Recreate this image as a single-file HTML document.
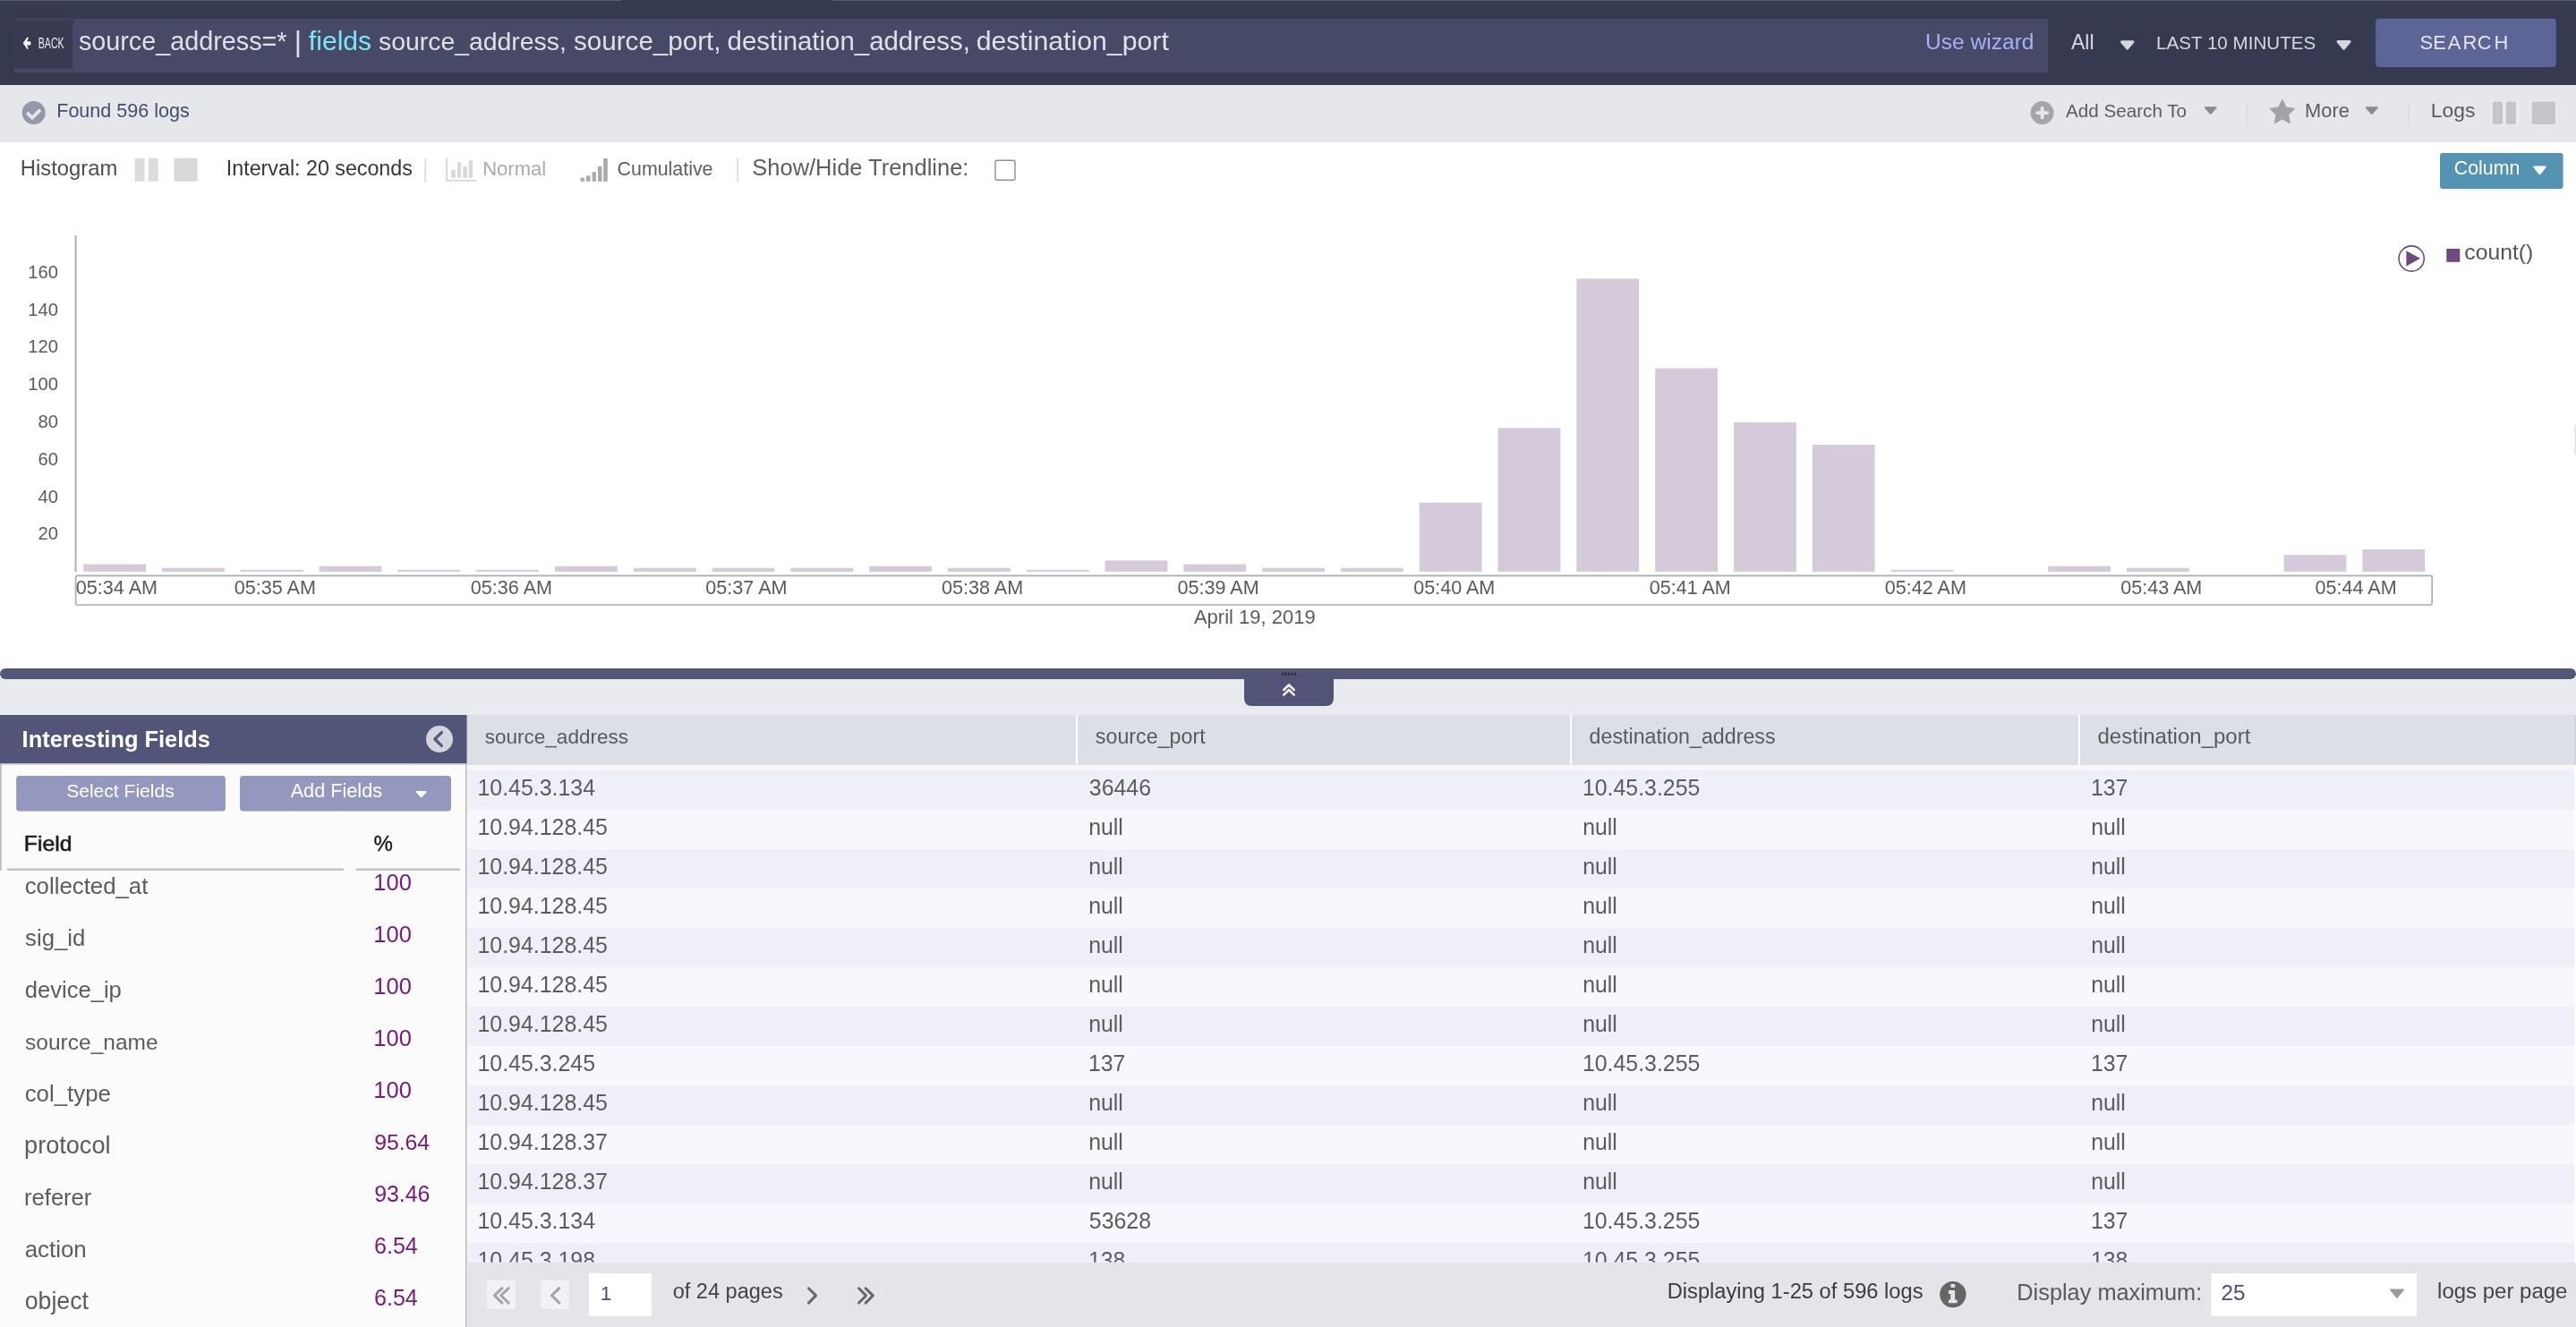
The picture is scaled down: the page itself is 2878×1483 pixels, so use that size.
<!DOCTYPE html>
<html lang="en"><head><meta charset="utf-8"><title>Log Search</title>
<style>
html,body{margin:0;padding:0;background:#fff;overflow:hidden;width:2878px;height:1483px;}
svg{display:block;font-family:"Liberation Sans", Arial, Helvetica, sans-serif;will-change:transform;}
text{white-space:pre;}
</style></head>
<body>
<svg width="2878" height="1483" viewBox="0 0 2878 1483" font-family='"Liberation Sans", Arial, Helvetica, sans-serif'>
<defs><clipPath id="tclip"><rect x="521.6" y="860" width="2356.4" height="550.8"/></clipPath></defs>
<rect width="2878" height="1483" fill="#ffffff"/>
<rect x="0.00" y="0.00" width="2878.00" height="95.00" fill="#363a51" />
<rect x="0.00" y="0.00" width="694.00" height="1.00" fill="#575b7b" />
<rect x="930.00" y="0.00" width="1948.00" height="1.00" fill="#575b7b" />
<rect x="16.00" y="21.00" width="2272.00" height="60.00" fill="#464a67" />
<rect x="16.00" y="22.00" width="65.00" height="54.60" fill="#373a51" />
<rect x="80.00" y="22.00" width="3.00" height="4.50" fill="#373a51" />
<path d="M25.7 48.3 L30.6 41.2 L31.8 42.4 L30.2 46.2 L34.3 46.2 L34.3 50.6 L30.2 50.6 L31.8 54.3 L30.6 55.3 Z" fill="#f4f4f8"/>
<text x="42.68" y="53.7" font-size="17.30" fill="#eeeef3" textLength="29.00" lengthAdjust="spacingAndGlyphs">BACK</text>
<text x="87.90" y="56.30" font-size="28.78" fill="#dfe0e8" >source_address=*</text>
<text x="328.74" y="57.2" font-size="32" fill="#dfe0e8">|</text>
<text x="344.87" y="56.30" font-size="30.08" fill="#7fe4f6" >fields</text>
<text x="423.11" y="56.30" font-size="28.37" fill="#dfe0e8" >source_address,</text>
<text x="641.08" y="56.30" font-size="29.59" fill="#dfe0e8" >source_port,</text>
<text x="812.56" y="56.30" font-size="29.42" fill="#dfe0e8" >destination_address,</text>
<text x="1090.63" y="56.30" font-size="30.24" fill="#dfe0e8" >destination_port</text>
<text x="2151.11" y="55.40" font-size="24.56" fill="#a9aff5" >Use wizard</text>
<text x="2313.96" y="54.80" font-size="23.02" fill="#d6d7e0" >All</text>
<path d="M2370.46 46.80 L2382.94 46.80 L2376.70 54.09 Z" fill="#d6d7e0" stroke="#d6d7e0" stroke-width="3.00" stroke-linejoin="round"/>
<text x="2409.01" y="54.80" font-size="20.61" fill="#d6d7e0" >LAST 10 MINUTES</text>
<path d="M2612.11 46.50 L2625.09 46.50 L2618.60 54.26 Z" fill="#d6d7e0" stroke="#d6d7e0" stroke-width="3.00" stroke-linejoin="round"/>
<rect x="2654.20" y="20.80" width="201.60" height="54.20" fill="#5d6496" rx="4" />
<text x="2703.50 2718.20 2734.86 2751.40 2767.79 2786.50" y="55.3" font-size="21.95" fill="#e3e4ee" >SEARCH</text>
<rect x="0.00" y="95.00" width="2878.00" height="64.00" fill="#e6e7eb" />
<circle cx="37.7" cy="126" r="13" fill="#9598a9"/>
<path d="M30.2 125.9 L36.1 131.6 L45.0 122.6" stroke="#e6e7eb" stroke-width="3.9" fill="none" stroke-linecap="butt" stroke-linejoin="miter"/>
<text x="63.23" y="131.00" font-size="21.55" fill="#474c6c" >Found 596 logs</text>
<circle cx="2281.6" cy="126.1" r="13" fill="#a6a6a8"/>
<path d="M2281.6 120.8 V131.4 M2276.1 126.1 H2287.1" stroke="#e6e7eb" stroke-width="3.9" stroke-linecap="round"/>
<text x="2307.96" y="130.90" font-size="20.67" fill="#5c5c60" >Add Search To</text>
<path d="M2463.68 120.10 L2475.82 120.10 L2469.75 127.03 Z" fill="#8c8c8e" stroke="#8c8c8e" stroke-width="1.80" stroke-linejoin="round"/>
<rect x="2510.50" y="113.50" width="1.00" height="27.30" fill="#d4d5da" />
<path d="M2549.9 111.5 L2554.0 120.1 L2563.5 121.4 L2556.6 128.0 L2558.3 137.4 L2549.9 132.8 L2541.5 137.4 L2543.2 128.0 L2536.3 121.4 L2545.8 120.1 Z" fill="#a3a3a5" stroke="#a3a3a5" stroke-width="1.2" stroke-linejoin="round"/>
<text x="2575.00" y="130.90" font-size="21.89" fill="#5c5c60" >More</text>
<path d="M2643.70 120.10 L2656.00 120.10 L2649.85 127.04 Z" fill="#8c8c8e" stroke="#8c8c8e" stroke-width="1.80" stroke-linejoin="round"/>
<rect x="2690.30" y="113.50" width="1.00" height="27.30" fill="#d4d5da" />
<text x="2715.72" y="130.90" font-size="22.92" fill="#5c5c60" >Logs</text>
<rect x="2782.40" y="111.80" width="32.00" height="28.50" fill="#ebebef" />
<rect x="2784.90" y="113.50" width="11.10" height="25.50" fill="#c6c6c8" rx="1.5" />
<rect x="2799.80" y="113.50" width="11.10" height="25.50" fill="#c6c6c8" rx="1.5" />
<rect x="2827.20" y="111.80" width="30.00" height="28.50" fill="#ebebef" />
<rect x="2828.70" y="113.50" width="26.30" height="25.50" fill="#c6c6c8" rx="1.5" />
<text x="22.85" y="196.00" font-size="23.79" fill="#4d4d4d" >Histogram</text>
<rect x="150.60" y="176.80" width="10.90" height="25.90" fill="#dcdcdc" rx="1.5" />
<rect x="165.70" y="176.80" width="10.90" height="25.90" fill="#dcdcdc" rx="1.5" />
<rect x="194.50" y="176.80" width="26.10" height="25.90" fill="#d9d9d9" rx="1.5" />
<text x="252.86" y="195.50" font-size="23.24" fill="#363636" >Interval: 20 seconds</text>
<rect x="474.50" y="177.00" width="1.20" height="27.00" fill="#d0d0d0" />
<rect x="498.20" y="177.10" width="1.90" height="25.70" fill="#d8d8d8" />
<rect x="498.20" y="200.90" width="34.10" height="1.90" fill="#d8d8d8" />
<rect x="504.10" y="190.00" width="4.80" height="8.70" fill="#d8d8d8" />
<rect x="511.00" y="181.30" width="4.00" height="17.40" fill="#d8d8d8" />
<rect x="517.20" y="185.90" width="4.60" height="12.80" fill="#d8d8d8" />
<rect x="523.80" y="179.20" width="4.10" height="19.50" fill="#d8d8d8" />
<text x="539.19" y="195.50" font-size="22.03" fill="#ababab" >Normal</text>
<rect x="648.40" y="198.70" width="4.50" height="4.10" fill="#a9a9a9" />
<rect x="655.00" y="196.40" width="4.50" height="6.40" fill="#a9a9a9" />
<rect x="661.60" y="192.10" width="4.30" height="10.70" fill="#a9a9a9" />
<rect x="668.00" y="185.90" width="4.50" height="16.90" fill="#a9a9a9" />
<rect x="674.20" y="177.10" width="4.60" height="25.70" fill="#a9a9a9" />
<text x="689.62" y="195.50" font-size="21.36" fill="#5e5e5e" >Cumulative</text>
<rect x="823.50" y="176.00" width="1.20" height="27.30" fill="#d0d0d0" />
<text x="840.34" y="196.00" font-size="25.47" fill="#5e5e5e" >Show/Hide Trendline:</text>
<rect x="1112.00" y="179.30" width="22.00" height="22.00" fill="#fff" rx="2" stroke="#8f8f8f" stroke-width="1.4"/>
<rect x="2726.00" y="171.00" width="137.60" height="39.90" fill="#5493b1" rx="3" />
<text x="2741.71" y="195.30" font-size="21.38" fill="#ffffff" >Column</text>
<path d="M2831.50 186.60 L2843.50 186.60 L2837.50 194.08 Z" fill="#ffffff" stroke="#ffffff" stroke-width="2.40" stroke-linejoin="round"/>
<rect x="93.20" y="630.56" width="69.80" height="8.34" fill="#d5cada" />
<rect x="181.00" y="634.73" width="69.80" height="4.17" fill="#d5cada" />
<rect x="268.80" y="636.81" width="69.80" height="2.09" fill="#d5cada" />
<rect x="356.60" y="632.64" width="69.80" height="6.26" fill="#d5cada" />
<rect x="444.40" y="636.81" width="69.80" height="2.09" fill="#d5cada" />
<rect x="532.20" y="636.81" width="69.80" height="2.09" fill="#d5cada" />
<rect x="620.00" y="632.64" width="69.80" height="6.26" fill="#d5cada" />
<rect x="707.80" y="634.73" width="69.80" height="4.17" fill="#d5cada" />
<rect x="795.60" y="634.73" width="69.80" height="4.17" fill="#d5cada" />
<rect x="883.40" y="634.73" width="69.80" height="4.17" fill="#d5cada" />
<rect x="971.20" y="632.64" width="69.80" height="6.26" fill="#d5cada" />
<rect x="1059.00" y="634.73" width="69.80" height="4.17" fill="#d5cada" />
<rect x="1146.80" y="636.81" width="69.80" height="2.09" fill="#d5cada" />
<rect x="1234.60" y="626.39" width="69.80" height="12.51" fill="#d5cada" />
<rect x="1322.40" y="630.56" width="69.80" height="8.34" fill="#d5cada" />
<rect x="1410.20" y="634.73" width="69.80" height="4.17" fill="#d5cada" />
<rect x="1498.00" y="634.73" width="69.80" height="4.17" fill="#d5cada" />
<rect x="1585.80" y="561.73" width="69.80" height="77.17" fill="#d5cada" />
<rect x="1673.60" y="478.30" width="69.80" height="160.60" fill="#d5cada" />
<rect x="1761.40" y="311.45" width="69.80" height="327.45" fill="#d5cada" />
<rect x="1849.20" y="411.56" width="69.80" height="227.34" fill="#d5cada" />
<rect x="1937.00" y="472.04" width="69.80" height="166.86" fill="#d5cada" />
<rect x="2024.80" y="497.07" width="69.80" height="141.83" fill="#d5cada" />
<rect x="2112.60" y="636.81" width="69.80" height="2.09" fill="#d5cada" />
<rect x="2288.20" y="632.64" width="69.80" height="6.26" fill="#d5cada" />
<rect x="2376.00" y="634.73" width="69.80" height="4.17" fill="#d5cada" />
<rect x="2551.60" y="620.13" width="69.80" height="18.77" fill="#d5cada" />
<rect x="2639.40" y="613.87" width="69.80" height="25.03" fill="#d5cada" />
<rect x="83.60" y="263.00" width="1.90" height="376.00" fill="#a9acbf" />
<rect x="84.6" y="643.4" width="2632.6" height="32.6" rx="2" fill="none" stroke="#a6abc1" stroke-width="1.6"/>
<text x="31.29" y="310.90" font-size="20.20" fill="#5a5a5a" >160</text>
<text x="31.29" y="353.10" font-size="20.20" fill="#5a5a5a" >140</text>
<text x="31.29" y="394.10" font-size="20.20" fill="#5a5a5a" >120</text>
<text x="31.29" y="436.00" font-size="20.20" fill="#5a5a5a" >100</text>
<text x="42.52" y="477.80" font-size="20.20" fill="#5a5a5a" >80</text>
<text x="42.52" y="520.00" font-size="20.20" fill="#5a5a5a" >60</text>
<text x="42.52" y="561.50" font-size="20.20" fill="#5a5a5a" >40</text>
<text x="42.52" y="602.90" font-size="20.20" fill="#5a5a5a" >20</text>
<text x="84.86" y="663.80" font-size="21.59" fill="#5a5a5a" >05:34 AM</text>
<text x="261.76" y="663.80" font-size="21.59" fill="#5a5a5a" >05:35 AM</text>
<text x="525.86" y="663.80" font-size="21.59" fill="#5a5a5a" >05:36 AM</text>
<text x="788.36" y="663.80" font-size="21.59" fill="#5a5a5a" >05:37 AM</text>
<text x="1051.96" y="663.80" font-size="21.59" fill="#5a5a5a" >05:38 AM</text>
<text x="1315.56" y="663.80" font-size="21.59" fill="#5a5a5a" >05:39 AM</text>
<text x="1579.16" y="663.80" font-size="21.59" fill="#5a5a5a" >05:40 AM</text>
<text x="1842.66" y="663.80" font-size="21.59" fill="#5a5a5a" >05:41 AM</text>
<text x="2105.76" y="663.80" font-size="21.59" fill="#5a5a5a" >05:42 AM</text>
<text x="2369.16" y="663.80" font-size="21.59" fill="#5a5a5a" >05:43 AM</text>
<text x="2586.46" y="663.80" font-size="21.59" fill="#5a5a5a" >05:44 AM</text>
<text x="1333.96" y="696.70" font-size="21.99" fill="#5a5a5a" >April 19, 2019</text>
<circle cx="2694.2" cy="289" r="14.1" fill="#fff" stroke="#6e4a7d" stroke-width="1.6"/>
<path d="M2688.4 280.2 L2704 288.8 L2688.4 297.4 Z" fill="#6e4a7d"/>
<rect x="2733.30" y="278.00" width="15.00" height="14.80" fill="#6e4a7d" />
<text x="2753.35" y="289.70" font-size="24.74" fill="#555555" >count()</text>
<rect x="2876.30" y="475.00" width="1.70" height="33.00" fill="#e4e4e4" />
<rect x="0.00" y="759.00" width="2878.00" height="40.00" fill="#eaebef" />
<rect x="0.00" y="747.00" width="2878.00" height="12.00" fill="#545778" rx="6" />
<path d="M1390 752 H1490 V780 Q1490 789 1481 789 H1399 Q1390 789 1390 780 Z" fill="#525477"/>
<rect x="1432.30" y="751.60" width="2.00" height="3.40" fill="#2c2d40" />
<rect x="1435.70" y="751.60" width="2.00" height="3.40" fill="#2c2d40" />
<rect x="1439.10" y="751.60" width="2.00" height="3.40" fill="#2c2d40" />
<rect x="1442.50" y="751.60" width="2.00" height="3.40" fill="#2c2d40" />
<rect x="1445.90" y="751.60" width="2.00" height="3.40" fill="#2c2d40" />
<path d="M1434.2 771.0 L1440 765.4 L1445.8 771.0 M1434.2 776.6 L1440 771.0 L1445.8 776.6" stroke="#f4f4f6" stroke-width="2.5" fill="none" stroke-linecap="round" stroke-linejoin="round"/>
<rect x="0.00" y="853.00" width="521.50" height="630.00" fill="#fbfbfb" />
<rect x="0.00" y="799.00" width="522.00" height="54.00" fill="#525478" />
<rect x="0.00" y="853.00" width="521.50" height="1.60" fill="#c2c2c2" />
<rect x="0.00" y="853.00" width="1.80" height="119.80" fill="#bdbdbd" />
<rect x="520.00" y="853.00" width="1.60" height="630.00" fill="#b8b8b8" />
<text x="24.60" y="835.00" font-size="25.42" fill="#ffffff" font-weight="bold" >Interesting Fields</text>
<circle cx="491" cy="826" r="15" fill="#d4d4e0"/>
<path d="M493.4 818.6 L485.8 826 L493.4 833.4" stroke="#56587a" stroke-width="3.3" fill="none" stroke-linecap="round" stroke-linejoin="round"/>
<rect x="18.10" y="867.10" width="233.80" height="39.50" fill="#9598be" rx="3.5" />
<rect x="268.00" y="867.10" width="236.00" height="39.50" fill="#9598be" rx="3.5" />
<text x="74.14" y="891.20" font-size="21.07" fill="#ffffff" >Select Fields</text>
<text x="324.66" y="891.20" font-size="21.68" fill="#ffffff" >Add Fields</text>
<path d="M465.64 884.90 L475.76 884.90 L470.70 890.46 Z" fill="#ffffff" stroke="#ffffff" stroke-width="1.80" stroke-linejoin="round"/>
<text x="26.87" y="950.70" font-size="24.74" fill="#1b1b1b" stroke="#1b1b1b" stroke-width="0.55">Field</text>
<text x="417.44" y="951.30" font-size="24.00" fill="#111111" stroke="#111111" stroke-width="0.3">%</text>
<rect x="390.40" y="919.00" width="1.60" height="53.70" fill="#ffffff" />
<rect x="8.10" y="970.60" width="375.60" height="2.20" fill="#b9bac8" />
<rect x="398.00" y="970.60" width="115.80" height="2.20" fill="#b9bac8" />
<text x="27.70" y="999.10" font-size="25.80" fill="#5c5c5c" >collected_at</text>
<text x="417.36" y="995.20" font-size="25.43" fill="#761b78" >100</text>
<text x="28.08" y="1057.12" font-size="25.71" fill="#5c5c5c" >sig_id</text>
<text x="417.36" y="1053.22" font-size="25.43" fill="#761b78" >100</text>
<text x="27.73" y="1115.14" font-size="25.60" fill="#5c5c5c" >device_ip</text>
<text x="417.36" y="1111.24" font-size="25.43" fill="#761b78" >100</text>
<text x="28.12" y="1173.16" font-size="24.50" fill="#5c5c5c" >source_name</text>
<text x="417.36" y="1169.26" font-size="25.43" fill="#761b78" >100</text>
<text x="27.70" y="1231.18" font-size="25.84" fill="#5c5c5c" >col_type</text>
<text x="417.36" y="1227.28" font-size="25.43" fill="#761b78" >100</text>
<text x="27.05" y="1289.20" font-size="27.14" fill="#5c5c5c" >protocol</text>
<text x="418.14" y="1285.30" font-size="24.77" fill="#761b78" >95.64</text>
<text x="27.10" y="1347.22" font-size="25.54" fill="#5c5c5c" >referer</text>
<text x="418.13" y="1343.32" font-size="24.92" fill="#761b78" >93.46</text>
<text x="27.70" y="1405.24" font-size="25.89" fill="#5c5c5c" >action</text>
<text x="418.03" y="1401.34" font-size="25.02" fill="#761b78" >6.54</text>
<text x="27.68" y="1463.26" font-size="26.73" fill="#5c5c5c" >object</text>
<text x="418.03" y="1459.36" font-size="25.02" fill="#761b78" >6.54</text>
<rect x="521.60" y="799.00" width="2356.40" height="56.20" fill="#dcdfe6" />
<rect x="1202.00" y="799.00" width="2.00" height="56.20" fill="#ffffff" />
<rect x="1754.00" y="799.00" width="2.00" height="56.20" fill="#ffffff" />
<rect x="2322.00" y="799.00" width="2.00" height="56.20" fill="#ffffff" />
<rect x="2876.00" y="799.00" width="2.00" height="56.20" fill="#d4d5dd" />
<text x="541.77" y="831.40" font-size="22.53" fill="#5a5a5a" >source_address</text>
<text x="1223.85" y="831.40" font-size="23.26" fill="#5a5a5a" >source_port</text>
<text x="1775.62" y="831.40" font-size="23.24" fill="#5a5a5a" >destination_address</text>
<text x="2343.49" y="831.40" font-size="24.03" fill="#5a5a5a" >destination_port</text>
<rect x="521.60" y="855.20" width="2354.40" height="5.60" fill="#f7f7fb" />
<g clip-path="url(#tclip)">
<rect x="521.60" y="860.80" width="2354.40" height="44.02" fill="#efeff8" />
<text x="533.50" y="888.90" font-size="24.90" fill="#5c5c5c" >10.45.3.134</text>
<text x="1216.85" y="888.90" font-size="24.90" fill="#5c5c5c" >36446</text>
<text x="1767.90" y="888.90" font-size="24.90" fill="#5c5c5c" >10.45.3.255</text>
<text x="2335.90" y="888.90" font-size="24.90" fill="#5c5c5c" >137</text>
<rect x="521.60" y="904.82" width="2354.40" height="44.02" fill="#f8f8fc" />
<text x="533.50" y="932.92" font-size="24.90" fill="#5c5c5c" >10.94.128.45</text>
<text x="1216.15" y="932.92" font-size="24.90" fill="#5c5c5c" >null</text>
<text x="1768.15" y="932.92" font-size="24.90" fill="#5c5c5c" >null</text>
<text x="2336.15" y="932.92" font-size="24.90" fill="#5c5c5c" >null</text>
<rect x="521.60" y="948.84" width="2354.40" height="44.02" fill="#efeff8" />
<text x="533.50" y="976.94" font-size="24.90" fill="#5c5c5c" >10.94.128.45</text>
<text x="1216.15" y="976.94" font-size="24.90" fill="#5c5c5c" >null</text>
<text x="1768.15" y="976.94" font-size="24.90" fill="#5c5c5c" >null</text>
<text x="2336.15" y="976.94" font-size="24.90" fill="#5c5c5c" >null</text>
<rect x="521.60" y="992.86" width="2354.40" height="44.02" fill="#f8f8fc" />
<text x="533.50" y="1020.96" font-size="24.90" fill="#5c5c5c" >10.94.128.45</text>
<text x="1216.15" y="1020.96" font-size="24.90" fill="#5c5c5c" >null</text>
<text x="1768.15" y="1020.96" font-size="24.90" fill="#5c5c5c" >null</text>
<text x="2336.15" y="1020.96" font-size="24.90" fill="#5c5c5c" >null</text>
<rect x="521.60" y="1036.88" width="2354.40" height="44.02" fill="#efeff8" />
<text x="533.50" y="1064.98" font-size="24.90" fill="#5c5c5c" >10.94.128.45</text>
<text x="1216.15" y="1064.98" font-size="24.90" fill="#5c5c5c" >null</text>
<text x="1768.15" y="1064.98" font-size="24.90" fill="#5c5c5c" >null</text>
<text x="2336.15" y="1064.98" font-size="24.90" fill="#5c5c5c" >null</text>
<rect x="521.60" y="1080.90" width="2354.40" height="44.02" fill="#f8f8fc" />
<text x="533.50" y="1109.00" font-size="24.90" fill="#5c5c5c" >10.94.128.45</text>
<text x="1216.15" y="1109.00" font-size="24.90" fill="#5c5c5c" >null</text>
<text x="1768.15" y="1109.00" font-size="24.90" fill="#5c5c5c" >null</text>
<text x="2336.15" y="1109.00" font-size="24.90" fill="#5c5c5c" >null</text>
<rect x="521.60" y="1124.92" width="2354.40" height="44.02" fill="#efeff8" />
<text x="533.50" y="1153.02" font-size="24.90" fill="#5c5c5c" >10.94.128.45</text>
<text x="1216.15" y="1153.02" font-size="24.90" fill="#5c5c5c" >null</text>
<text x="1768.15" y="1153.02" font-size="24.90" fill="#5c5c5c" >null</text>
<text x="2336.15" y="1153.02" font-size="24.90" fill="#5c5c5c" >null</text>
<rect x="521.60" y="1168.94" width="2354.40" height="44.02" fill="#f8f8fc" />
<text x="533.50" y="1197.04" font-size="24.90" fill="#5c5c5c" >10.45.3.245</text>
<text x="1215.90" y="1197.04" font-size="24.90" fill="#5c5c5c" >137</text>
<text x="1767.90" y="1197.04" font-size="24.90" fill="#5c5c5c" >10.45.3.255</text>
<text x="2335.90" y="1197.04" font-size="24.90" fill="#5c5c5c" >137</text>
<rect x="521.60" y="1212.96" width="2354.40" height="44.02" fill="#efeff8" />
<text x="533.50" y="1241.06" font-size="24.90" fill="#5c5c5c" >10.94.128.45</text>
<text x="1216.15" y="1241.06" font-size="24.90" fill="#5c5c5c" >null</text>
<text x="1768.15" y="1241.06" font-size="24.90" fill="#5c5c5c" >null</text>
<text x="2336.15" y="1241.06" font-size="24.90" fill="#5c5c5c" >null</text>
<rect x="521.60" y="1256.98" width="2354.40" height="44.02" fill="#f8f8fc" />
<text x="533.50" y="1285.08" font-size="24.90" fill="#5c5c5c" >10.94.128.37</text>
<text x="1216.15" y="1285.08" font-size="24.90" fill="#5c5c5c" >null</text>
<text x="1768.15" y="1285.08" font-size="24.90" fill="#5c5c5c" >null</text>
<text x="2336.15" y="1285.08" font-size="24.90" fill="#5c5c5c" >null</text>
<rect x="521.60" y="1301.00" width="2354.40" height="44.02" fill="#efeff8" />
<text x="533.50" y="1329.10" font-size="24.90" fill="#5c5c5c" >10.94.128.37</text>
<text x="1216.15" y="1329.10" font-size="24.90" fill="#5c5c5c" >null</text>
<text x="1768.15" y="1329.10" font-size="24.90" fill="#5c5c5c" >null</text>
<text x="2336.15" y="1329.10" font-size="24.90" fill="#5c5c5c" >null</text>
<rect x="521.60" y="1345.02" width="2354.40" height="44.02" fill="#f8f8fc" />
<text x="533.50" y="1373.12" font-size="24.90" fill="#5c5c5c" >10.45.3.134</text>
<text x="1216.80" y="1373.12" font-size="24.90" fill="#5c5c5c" >53628</text>
<text x="1767.90" y="1373.12" font-size="24.90" fill="#5c5c5c" >10.45.3.255</text>
<text x="2335.90" y="1373.12" font-size="24.90" fill="#5c5c5c" >137</text>
<rect x="521.60" y="1389.04" width="2354.40" height="44.02" fill="#efeff8" />
<text x="533.50" y="1417.14" font-size="24.90" fill="#5c5c5c" >10.45.3.198</text>
<text x="1215.90" y="1417.14" font-size="24.90" fill="#5c5c5c" >138</text>
<text x="1767.90" y="1417.14" font-size="24.90" fill="#5c5c5c" >10.45.3.255</text>
<text x="2335.90" y="1417.14" font-size="24.90" fill="#5c5c5c" >138</text>
</g>
<rect x="521.60" y="1410.80" width="2356.40" height="72.20" fill="#e5e5e9" />
<rect x="543.90" y="1430.90" width="32.00" height="32.00" fill="#f2f2f4" />
<rect x="604.10" y="1430.90" width="31.60" height="32.00" fill="#f2f2f4" />
<path d="M561 1439.6 L552.4 1447.8 L561 1456.1 M568.2 1439.6 L559.6 1447.8 L568.2 1456.1" stroke="#a4a4a6" stroke-width="2.9" fill="none" stroke-linecap="round" stroke-linejoin="round"/>
<path d="M624.9 1439.6 L616.3 1447.8 L624.9 1456.1" stroke="#a4a4a6" stroke-width="2.9" fill="none" stroke-linecap="round" stroke-linejoin="round"/>
<rect x="658.00" y="1422.90" width="69.80" height="47.70" fill="#ffffff" />
<text x="670.69" y="1453.20" font-size="22.50" fill="#4a4e7a" >1</text>
<text x="751.71" y="1450.80" font-size="23.54" fill="#444444" >of 24 pages</text>
<path d="M903.4 1439.8 L911.6 1447.9 L903.4 1456.1" stroke="#666666" stroke-width="2.9" fill="none" stroke-linecap="round" stroke-linejoin="round"/>
<path d="M959.5 1439.8 L967.6 1447.9 L959.5 1456.1 M967.1 1439.8 L975.3 1447.9 L967.1 1456.1" stroke="#666666" stroke-width="2.9" fill="none" stroke-linecap="round" stroke-linejoin="round"/>
<text x="1862.66" y="1450.50" font-size="23.71" fill="#3c3c3c" >Displaying 1-25 of 596 logs</text>
<circle cx="2181.9" cy="1446.6" r="14.7" fill="#666666"/>
<rect x="2179.4" y="1435.1" width="4.8" height="4.0" rx="0.8" fill="#e6e6ea"/>
<path d="M2177 1442 H2184.1 V1452.4 H2186.6 V1456.2 H2177 V1452.4 H2179.2 V1446 H2177 Z" fill="#e6e6ea"/>
<text x="2253.32" y="1453.20" font-size="25.34" fill="#5a5a5a" >Display maximum:</text>
<rect x="2470.30" y="1423.00" width="229.70" height="47.60" fill="#ffffff" />
<text x="2481.48" y="1453.20" font-size="24.31" fill="#4a4e7a" >25</text>
<path d="M2670.91 1441.30 L2685.09 1441.30 L2678.00 1449.89 Z" fill="#9a9a9a" stroke="#9a9a9a" stroke-width="1.80" stroke-linejoin="round"/>
<text x="2723.08" y="1450.80" font-size="23.99" fill="#444444" >logs per page</text>
</svg>
</body></html>
